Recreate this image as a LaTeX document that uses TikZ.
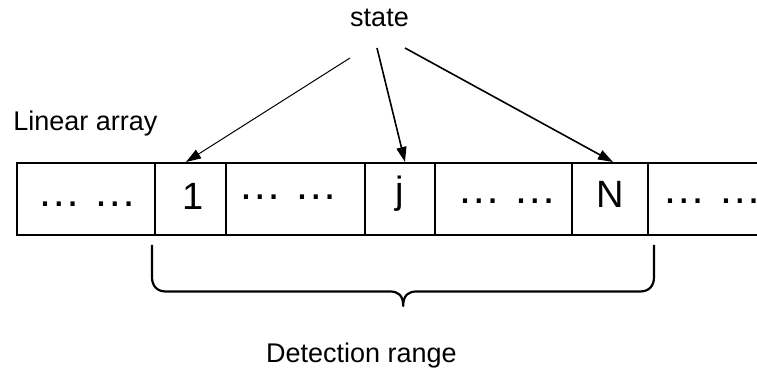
\documentclass[tikz,border=0pt]{standalone}
\usepackage{fontspec}
\setmainfont{Liberation Sans}
\usetikzlibrary{arrows.meta,calc}

\begin{document}
\begin{tikzpicture}[x=0.5pt,y=-0.5pt,
  frame/.style={line width=1.25pt},
  cellbox/.style={draw, frame, rectangle, inner sep=0pt, outer sep=0pt,
    minimum height=36pt},
  label/.style={font=\fontsize{13.5}{16}\selectfont, inner sep=0pt, anchor=base},
  celltxt/.style={font=\fontsize{19}{22}\selectfont, inner sep=0pt, anchor=base},
  dotstxt/.style={font=\fontsize{21.75}{24}\selectfont, inner sep=0pt, anchor=base},
  thinarrow/.style={line width=0.5pt, -{Triangle[length=7.5pt,width=5pt]}},
  arrow/.style={line width=0.8pt, -{Triangle[length=7.5pt,width=5pt]}},
  bracepath/.style={line width=1.1pt, line join=round}
]
\useasboundingbox (0,0) rectangle (757,374);

% cells of the linear array
\node[cellbox, minimum width=69pt]   (c0) at (86,199)    {};
\node[cellbox, minimum width=35.5pt] (c1) at (190.5,199) {};
\node[cellbox, minimum width=69.5pt] (c2) at (295.5,199) {};
\node[cellbox, minimum width=35pt]   (cj) at (400,199)   {};
\node[cellbox, minimum width=68.5pt] (c4) at (503.5,199) {};
\node[cellbox, minimum width=38pt]   (cN) at (610,199)   {};
% open cell running off to the right
\draw[frame] (cN.north east) -- (757,163);
\draw[frame] (cN.south east) -- (757,235);

% cell contents
\node[dotstxt] (d0) at (87,207)    {… …};
\node[celltxt] (n1) at (193,210)   {1};
\node[dotstxt] (d2) at (288,200)   {… …};
\node[celltxt] (nj) at (400,204)   {j};
\node[dotstxt] (d4) at (507.5,204) {… …};
\node[celltxt] (nN) at (610,208)   {N};
\node[dotstxt] (d6) at (712,204)   {… …};

% labels
\node[label, anchor=base west] (lin) at (13,131) {Linear array};
\node[label] (state) at (379.5,27) {state};
\node[label] (det) at (361.5,363) {Detection range};

% pointers from the state label to the cells
\coordinate (s1) at ($(state.base)+(-29.5,31)$);
\coordinate (s2) at ($(state.base)+(-2.5,21)$);
\coordinate (s3) at ($(state.base)+(25.5,21)$);
\draw[thinarrow] (s1) -- ($(c1.north)+(-4.5,-1)$);
\draw[arrow] (s2) -- ($(cj.north)+(5,-1)$);
\draw[arrow] (s3) -- ($(cN.north)+(3,-1)$);

% brace under the detection range
\draw[bracepath] (152,245) -- (152,277)
  .. controls (152,286) and (157,291.5) .. (166,291.5)
  -- (390,291.5)
  .. controls (398,291.5) and (403.2,295) .. (403.2,306)
  .. controls (403.2,295) and (408.5,291.5) .. (416.5,291.5)
  -- (640,291.5)
  .. controls (649,291.5) and (654,286) .. (654,277)
  -- (654,245);
\end{tikzpicture}
\end{document}
